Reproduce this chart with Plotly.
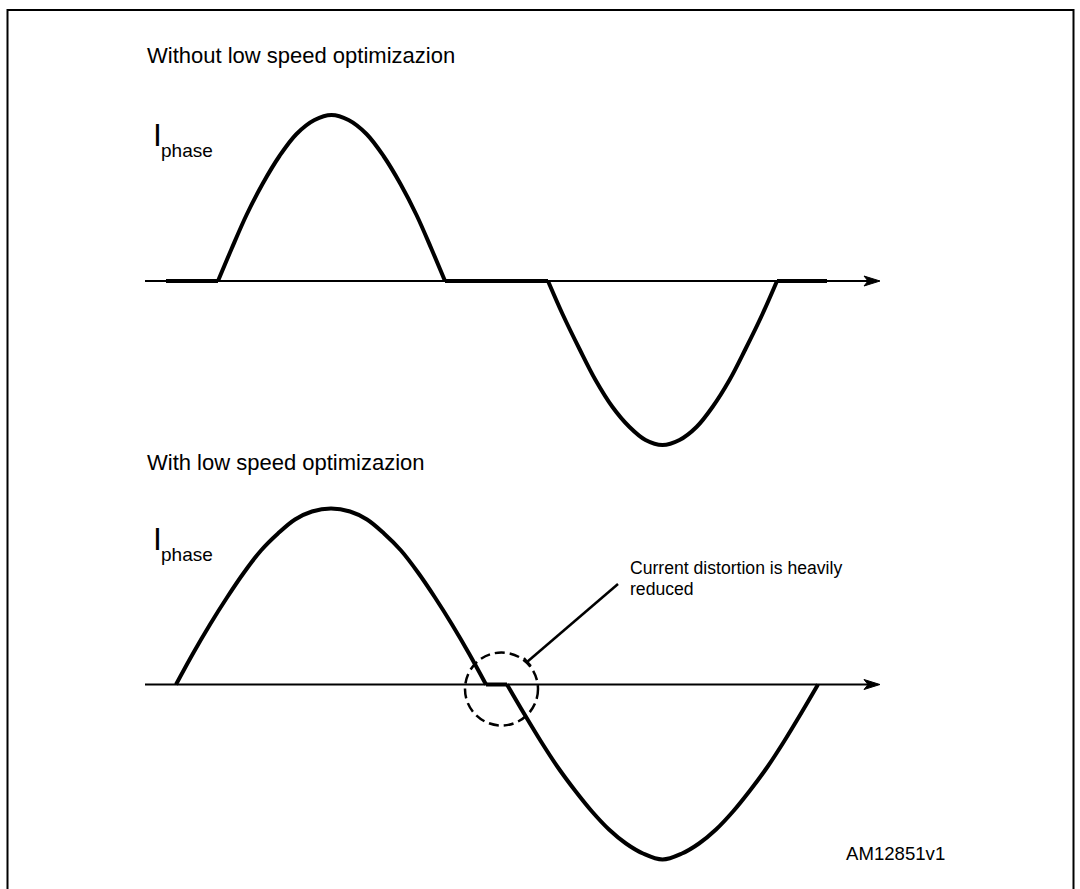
import plotly.graph_objects as go

# ---------------- data (time units, current units) ----------------
# Without low speed optimization: positive lobe, negative lobe, dead-time flats
TOP_POS_T = [73, 86.5, 101.5, 117.5, 134.5, 151.5, 169.5, 186.5, 203.5, 221.5, 238.5, 255.5, 271.5, 286.5, 300]
TOP_POS_I = [0, 32, 66, 97, 125, 147, 161, 166, 161, 147, 125, 97, 66, 32, 0]
TOP_NEG_T = [403, 417.5, 434.5, 450.5, 467.5, 484.5, 500.5, 517.5, 534.5, 551.5, 567.5, 584.5, 600.5, 617.5, 632]
TOP_NEG_I = [0, -33, -68, -99, -126, -146, -159, -164, -159, -146, -126, -99, -68, -33, 0]
TOP_FLAT_T = [21, 73, None, 300, 403, None, 632, 682]
TOP_FLAT_I = [0, 0, None, 0, 0, None, 0, 0]

# With low speed optimization
BOT_POS_T = [31, 48, 65, 82, 99, 116, 133, 150, 167, 186, 205, 222, 239, 256, 273, 290, 307, 324, 341]
BOT_POS_I = [0, 31, 60, 87, 112, 134, 151, 165, 173, 176, 173, 165, 151, 134, 112, 87, 60, 31, 0]
BOT_NEG_T = [362, 379, 396, 413, 430, 447, 464, 481, 498, 517.5, 537, 554, 571, 588, 605, 622, 639, 656, 673]
BOT_NEG_I = [0, -29, -57, -83, -106, -127, -145, -159, -169, -175, -169, -159, -145, -127, -106, -83, -57, -29, 0]
BOT_FLAT_T = [341, 362]
BOT_FLAT_I = [0, 0]

AXIS_END_T = 735
TITLE_TOP = "Without low speed optimizazion"
TITLE_BOT = "With low speed optimizazion"
NOTE_1 = "Current distortion is heavily"
NOTE_2 = "reduced"
CODE = "AM12851v1"

W, H = 1080, 889
FONT = "Liberation Sans, Arial, sans-serif"


def px(x):
    return x / W


def py(y):
    return 1 - y / H


fig = go.Figure()

wave = dict(color="black", width=4)
for t, i, ax in [(TOP_POS_T, TOP_POS_I, "y"), (TOP_NEG_T, TOP_NEG_I, "y"),
                 (BOT_POS_T, BOT_POS_I, "y2"), (BOT_NEG_T, BOT_NEG_I, "y2")]:
    fig.add_trace(go.Scatter(x=t, y=i, yaxis=ax, mode="lines",
                             line=dict(shape="spline", smoothing=1.0, **wave),
                             hoverinfo="skip"))
fig.add_trace(go.Scatter(x=TOP_FLAT_T, y=TOP_FLAT_I, yaxis="y", mode="lines",
                         line=wave, hoverinfo="skip", connectgaps=False))
fig.add_trace(go.Scatter(x=BOT_FLAT_T, y=BOT_FLAT_I, yaxis="y2", mode="lines",
                         line=wave, hoverinfo="skip"))

shapes = []
# frame
shapes.append(dict(type="rect", xref="paper", yref="paper",
                   x0=px(7.5), x1=px(1073.5), y0=py(10), y1=py(905),
                   line=dict(color="black", width=2), layer="below"))
# time axes with arrows
for yr in ["y", "y2"]:
    shapes.append(dict(type="line", xref="x", yref=yr, x0=0, x1=AXIS_END_T - 10,
                       y0=0, y1=0, line=dict(color="black", width=2), layer="below"))
    a = AXIS_END_T
    shapes.append(dict(type="path", xref="x", yref=yr,
                       path=f"M {a},0 L {a-16},5 L {a-12},0 L {a-16},-5 Z",
                       fillcolor="black", line=dict(color="black", width=1)))
# dashed circle around the crossing
shapes.append(dict(type="circle", xref="x", yref="y2", x0=320, x1=393, y0=-41, y1=32,
                   line=dict(color="black", width=2.5, dash="10px,5px")))
# leader line + tick
shapes.append(dict(type="line", xref="x", yref="y2", x0=382, y0=22.5, x1=473, y1=100.5,
                   line=dict(color="black", width=2.5)))
shapes.append(dict(type="line", xref="x", yref="y2", x0=379, y0=26.5, x1=386, y1=18.5,
                   line=dict(color="black", width=2)))

ann = []


def text(s, x, yc, size):
    ann.append(dict(text=s, xref="paper", yref="paper", x=px(x), y=py(yc),
                    xanchor="left", yanchor="middle", showarrow=False,
                    font=dict(family=FONT, size=size, color="black")))


text(TITLE_TOP, 145, 55.5, 22)
text(TITLE_BOT, 145, 462.5, 22)
text("I", 151, 135, 32)
text("phase", 158.5, 150.5, 19)
text("I", 151, 539, 32)
text("phase", 158.5, 554.5, 19)
text(NOTE_1, 628, 568.2, 17.6)
text(NOTE_2, 628, 588.9, 17.6)
text(CODE, 844, 853, 18.6)

fig.update_layout(
    width=W, height=H, margin=dict(l=0, r=0, t=0, b=0),
    paper_bgcolor="white", plot_bgcolor="white", showlegend=False,
    xaxis=dict(range=[-145, W - 145], visible=False, fixedrange=True),
    yaxis=dict(range=[281 - H, 281], visible=False, fixedrange=True, domain=[0, 1]),
    yaxis2=dict(range=[684.5 - H, 684.5], visible=False, fixedrange=True,
                overlaying="y", anchor="x"),
    shapes=shapes, annotations=ann,
)

fig.write_html("out.html", config={"displayModeBar": False},
               post_script="document.body.style.margin='0';document.body.style.overflow='hidden';")
